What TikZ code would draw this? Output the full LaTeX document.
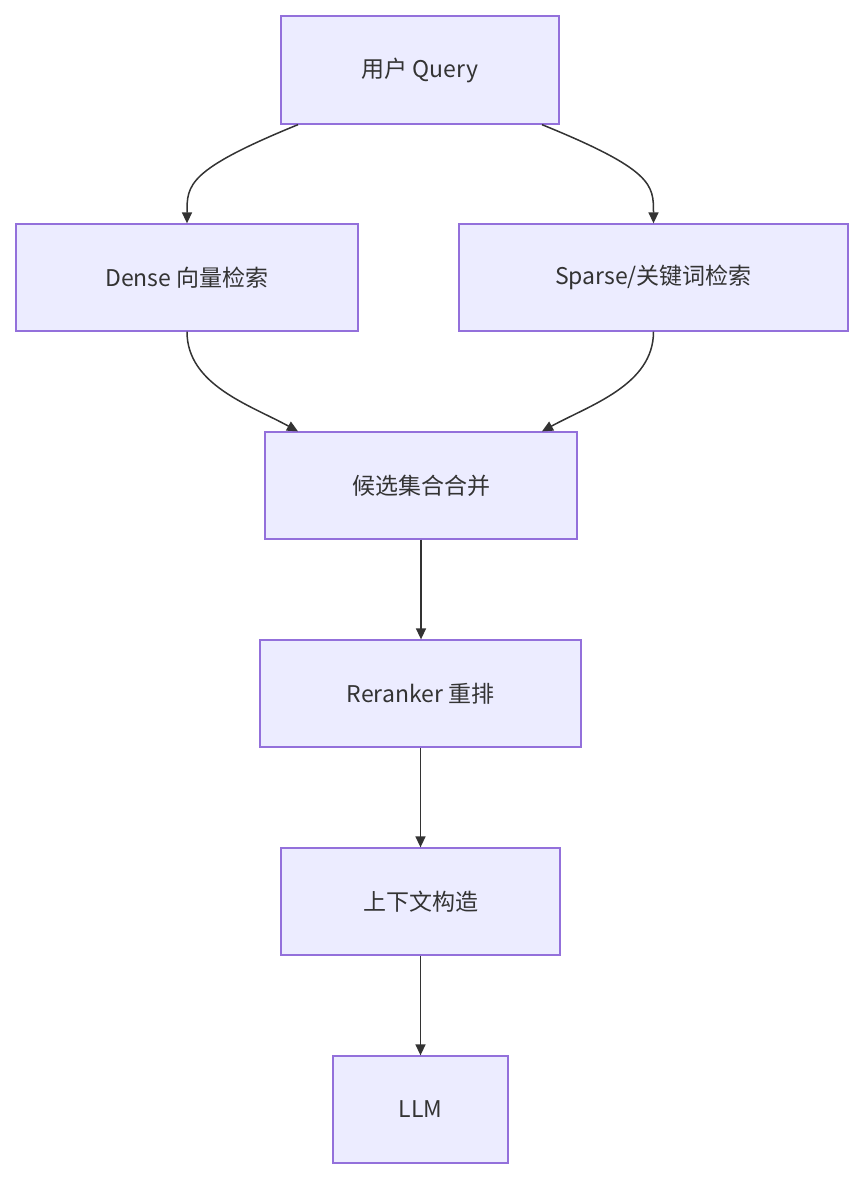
\documentclass[tikz,border=0pt]{standalone}
\usepackage{fontspec}
\setmainfont{Noto Sans CJK SC}
\usetikzlibrary{arrows.meta,calc}
\definecolor{nfill}{HTML}{ECECFF}
\definecolor{nline}{HTML}{9370DB}
\definecolor{txt}{HTML}{333333}
\begin{document}
\begin{tikzpicture}[x=1pt,y=-1pt,
  box/.style={draw=nline,fill=nfill,line width=1.3pt,text=txt,font=\fontsize{23}{27}\selectfont,inner sep=0pt,anchor=center},
  link/.style={draw=txt,line width=1.5pt,-{Triangle[length=11pt,width=10pt]}}]
\useasboundingbox (0,0) rectangle (864,1180);
\node[box,minimum width=278pt,minimum height=108pt] (q) at (420,70) {用户 Query};
\node[box,minimum width=342pt,minimum height=107pt] (d) at (187,277.5) {Dense 向量检索};
\node[box,minimum width=389pt,minimum height=107pt] (s) at (653.5,277.5) {Sparse/关键词检索};
\node[box,minimum width=312pt,minimum height=107pt] (m) at (421,485.5) {候选集合合并};
\node[box,minimum width=321pt,minimum height=107pt] (r) at (420.5,693.5) {Reranker 重排};
\node[box,minimum width=279pt,minimum height=107pt] (c) at (420.5,901.5) {上下文构造};
\node[box,minimum width=175pt,minimum height=107pt] (l) at (420.5,1109.5) {LLM};
\draw[link] ($(q.south)+(-122,0)$) .. controls (187,170) and (187,185) .. (d.north);
\draw[link] ($(q.south)+(122,0)$) .. controls (653.5,170) and (653.5,185) .. (s.north);
\draw[link] (d.south) .. controls (187,385) and (250,405) .. ($(m.north)+(-123,0)$);
\draw[link] (s.south) .. controls (653.5,385) and (590,405) .. ($(m.north)+(121,0)$);
\draw[link] (m.south) -- (m.south |- r.north);
\draw[link] (r.south) -- (r.south |- c.north);
\draw[link] (c.south) -- (l.north);
\end{tikzpicture}
\end{document}
